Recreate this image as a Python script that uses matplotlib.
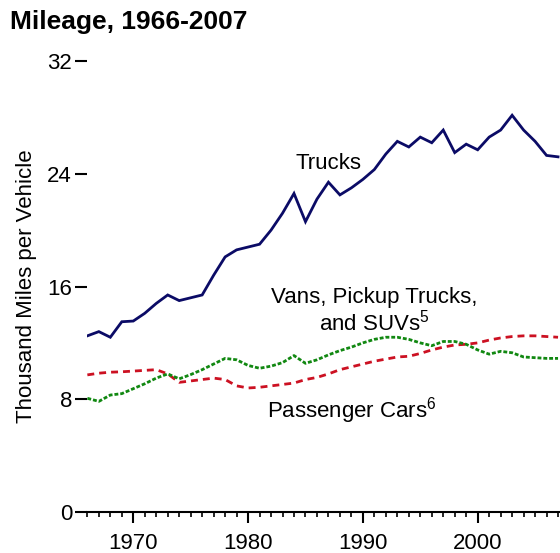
import numpy as np
import matplotlib
matplotlib.use("Agg")
import matplotlib.pyplot as plt

plt.rcParams['font.family'] = ['Liberation Sans', 'DejaVu Sans']
plt.rcParams['mathtext.fontset'] = 'custom'
plt.rcParams['mathtext.rm'] = 'Liberation Sans'

# data (thousand miles per vehicle)
years = list(range(1966, 2008))
trucks = [12.5, 12.8, 12.4, 13.5, 13.55, 14.1, 14.8, 15.4, 15.0, 15.2,
          15.4, 16.8, 18.1, 18.6, 18.8, 19.0, 20.0, 21.2, 22.6, 20.6,
          22.2, 23.4, 22.5, 23.0, 23.6, 24.3, 25.4, 26.3, 25.9, 26.6,
          26.2, 27.1, 25.5, 26.1, 25.7, 26.6, 27.1, 28.15, 27.1, 26.3,
          25.3, 25.2]
cars = [9.73, 9.85, 9.92, 9.95, 10.0, 10.05, 10.1, 9.8, 9.2, 9.3,
        9.4, 9.5, 9.4, 8.95, 8.8, 8.85, 8.95, 9.05, 9.15, 9.4,
        9.55, 9.8, 10.1, 10.3, 10.5, 10.7, 10.85, 11.0, 11.05, 11.25,
        11.5, 11.7, 11.85, 11.9, 12.0, 12.2, 12.35, 12.45, 12.5, 12.5,
        12.45, 12.4]
vans = [8.07, 7.85, 8.3, 8.4, 8.75, 9.1, 9.5, 9.8, 9.45, 9.75,
        10.1, 10.5, 10.9, 10.8, 10.4, 10.2, 10.35, 10.6, 11.1, 10.55,
        10.8, 11.15, 11.45, 11.7, 12.0, 12.25, 12.4, 12.4, 12.25, 12.0,
        11.8, 12.1, 12.1, 11.9, 11.5, 11.2, 11.4, 11.3, 11.0, 10.95,
        10.9, 10.9]
y_ticks = [0, 8, 16, 24, 32]
x_ticks = [1970, 1980, 1990, 2000]

fig = plt.figure(figsize=(5.6, 5.53), dpi=100)
ax = fig.add_axes([0.156, 0.0741, 0.861, 0.8156])

ax.plot(years, trucks, color='#0b0b66', lw=2, solid_joinstyle='miter')
ax.plot(years, cars, color='#cc1122', lw=2, dashes=(2.5, 1.8))
ax.plot(years, vans, color='#118811', lw=2, dashes=(1.4, 0.7))

ax.set_xlim(1966, 2008)
ax.set_ylim(0, 32)
ax.set_yticks(y_ticks)
ax.set_xticks(x_ticks)
ax.set_xticks(range(1966, 2009), minor=True)

for s in ['top', 'right', 'left']:
    ax.spines[s].set_visible(False)
ax.spines['bottom'].set_linewidth(1.5)

ax.tick_params(axis='y', length=9, width=1.5, pad=2, labelsize=16)
ax.tick_params(axis='x', which='major', length=8, width=1.5, pad=7, labelsize=16)
ax.tick_params(axis='x', which='minor', length=3.5, width=1.2)

ax.text(1987.0, 24.7, 'Trucks', fontsize=16, ha='center', va='center')
ax.text(1991.0, 14.25, 'Vans, Pickup Trucks,\nand SUVs$^{5}$', fontsize=16,
        ha='center', va='center', multialignment='center', linespacing=1.1)
ax.text(1989.0, 7.2, 'Passenger Cars$^{6}$', fontsize=16, ha='center', va='center')

fig.text(10 / 560, 1 - 22 / 553, 'Mileage, 1966-2007', fontsize=19,
         fontweight='bold', ha='left', va='center')
fig.text(27 / 560, 1 - 286 / 553, 'Thousand Miles per Vehicle', fontsize=16,
         rotation=90, ha='center', va='center')

fig.savefig('out.png', dpi=100)
